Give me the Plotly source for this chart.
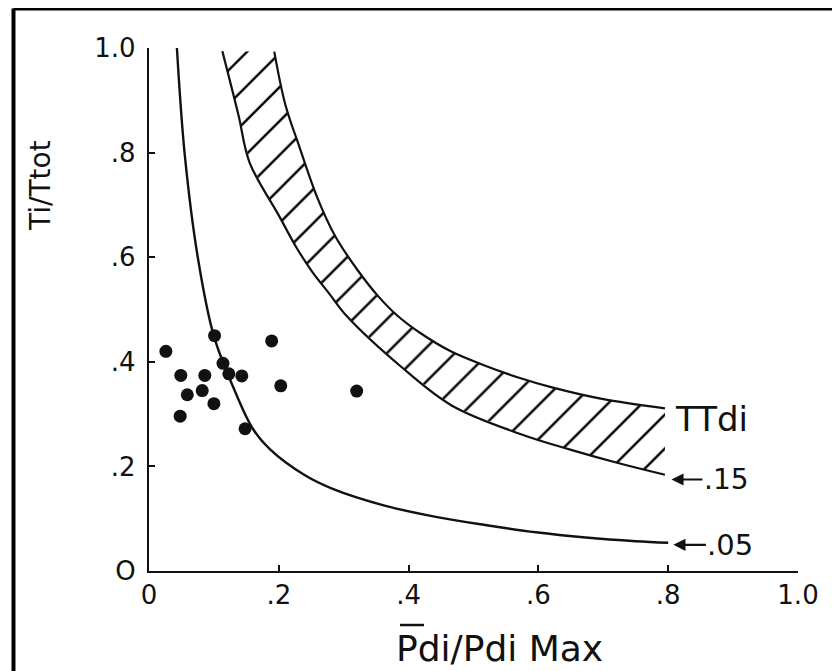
import plotly.graph_objects as go

# ---- data ----
tick_vals = [0, 0.2, 0.4, 0.6, 0.8, 1.0]
x_tick_text = ["0", ".2", ".4", ".6", ".8", "1.0"]
y_tick_text = ["O", ".2", ".4", ".6", ".8", "1.0"]

# TTdi = .05 isopleth
curve05_x = [0.043, 0.055, 0.075, 0.100, 0.131, 0.160, 0.187, 0.239, 0.285, 0.363, 0.440, 0.518, 0.596, 0.673, 0.750, 0.800]
curve05_y = [1.000, 0.797, 0.601, 0.449, 0.348, 0.272, 0.232, 0.184, 0.156, 0.125, 0.104, 0.088, 0.074, 0.064, 0.057, 0.054]

# hatched fatigue band (inner edge = .15 isopleth)
band_outer_x = [0.193, 0.210, 0.232, 0.259, 0.287, 0.321, 0.352, 0.382, 0.418, 0.465, 0.517, 0.569, 0.621, 0.698, 0.795]
band_outer_y = [0.993, 0.892, 0.810, 0.715, 0.640, 0.576, 0.527, 0.489, 0.455, 0.420, 0.393, 0.370, 0.351, 0.329, 0.311]
band_inner_x = [0.113, 0.138, 0.155, 0.200, 0.226, 0.251, 0.278, 0.305, 0.389, 0.467, 0.572, 0.649, 0.727, 0.795]
band_inner_y = [0.994, 0.871, 0.781, 0.680, 0.621, 0.573, 0.530, 0.487, 0.390, 0.316, 0.262, 0.232, 0.205, 0.184]

# individual subjects
dots_x = [0.101, 0.026, 0.189, 0.114, 0.049, 0.086, 0.123, 0.143, 0.203, 0.059, 0.082, 0.100, 0.320, 0.048, 0.148]
dots_y = [0.450, 0.420, 0.440, 0.397, 0.374, 0.374, 0.377, 0.373, 0.354, 0.337, 0.345, 0.320, 0.344, 0.296, 0.272]

label_05 = ".05"
label_15 = ".15"
label_ttdi = "TTdi"
x_title = "Pdi/Pdi Max"
y_title = "Ti/Ttot"

FONT = "DejaVu Sans"
INK = "#111111"

fig = go.Figure()

# hatched band
fig.add_trace(go.Scatter(
    x=band_outer_x + band_inner_x[::-1],
    y=band_outer_y + band_inner_y[::-1],
    mode="lines", fill="toself", line=dict(width=0, color=INK),
    fillcolor="white",
    fillpattern=dict(shape="/", fgcolor="black", bgcolor="white", fgopacity=1,
                     size=24, solidity=0.1),
    hoverinfo="skip", showlegend=False))
fig.add_trace(go.Scatter(x=band_outer_x, y=band_outer_y, mode="lines",
                         line=dict(color=INK, width=2.2, shape="spline"), showlegend=False))
fig.add_trace(go.Scatter(x=band_inner_x, y=band_inner_y, mode="lines",
                         line=dict(color=INK, width=2.2, shape="spline"), showlegend=False))

# .05 curve
fig.add_trace(go.Scatter(x=curve05_x, y=curve05_y, mode="lines",
                         line=dict(color=INK, width=2.4, shape="spline"), showlegend=False))

# data points
fig.add_trace(go.Scatter(x=dots_x, y=dots_y, mode="markers",
                         marker=dict(size=13, color=INK), showlegend=False))

axis_common = dict(
    range=[0, 1.0], tickvals=tick_vals, showgrid=False, zeroline=False,
    showline=True, linecolor=INK, linewidth=2.4, ticks="inside", ticklen=6,
    tickwidth=2, tickcolor=INK, tickfont=dict(family=FONT, size=26, color=INK),
)
fig.update_xaxes(ticktext=x_tick_text, **axis_common)
fig.update_yaxes(ticktext=y_tick_text, ticklabelstandoff=6, **axis_common)

annotations = [
    dict(text=y_title, x=-0.168, y=0.738, xref="paper", yref="paper", textangle=-90,
         xanchor="center", yanchor="middle",
         showarrow=False, font=dict(family=FONT, size=28, color=INK)),
    dict(text=x_title, x=0.378, y=-0.148, xref="paper", yref="paper", xanchor="left",
         yanchor="middle", showarrow=False, font=dict(family=FONT, size=36, color=INK)),
    dict(text=label_ttdi, x=0.866, y=0.290, xref="x", yref="y", showarrow=False,
         font=dict(family=FONT, size=34, color=INK)),
    dict(text=label_15, x=0.805, y=0.175, xref="x", yref="y", ax=55, ay=0,
         showarrow=True, arrowhead=2, arrowsize=1.1, arrowwidth=2.2, arrowcolor=INK,
         font=dict(family=FONT, size=28, color=INK)),
    dict(text=label_05, x=0.808, y=0.050, xref="x", yref="y", ax=57, ay=0,
         showarrow=True, arrowhead=2, arrowsize=1.1, arrowwidth=2.2, arrowcolor=INK,
         font=dict(family=FONT, size=29, color=INK)),
]

shapes = [
    # overbar on the first P of the x title
    dict(type="line", xref="paper", yref="paper", x0=0.3867, x1=0.4237, y0=-0.1033, y1=-0.1033,
         line=dict(color=INK, width=2.5)),
    # outer frame (left and top edges visible)
    dict(type="line", xref="paper", yref="paper", x0=-0.2088, x1=-0.2088, y0=-0.25, y1=1.0755,
         line=dict(color="black", width=4)),
    dict(type="line", xref="paper", yref="paper", x0=-0.2088, x1=1.1, y0=1.0755, y1=1.0755,
         line=dict(color="black", width=4)),
]

# page has an 8px body margin, so the figure is 832x663 and offset by (8, 8)
fig.update_layout(
    width=832, height=663,
    margin=dict(l=141, r=42, t=40, b=100),
    paper_bgcolor="white", plot_bgcolor="white",
    font=dict(family=FONT, color=INK),
    annotations=annotations, shapes=shapes,
    showlegend=False,
)

fig.write_html("out.html")
